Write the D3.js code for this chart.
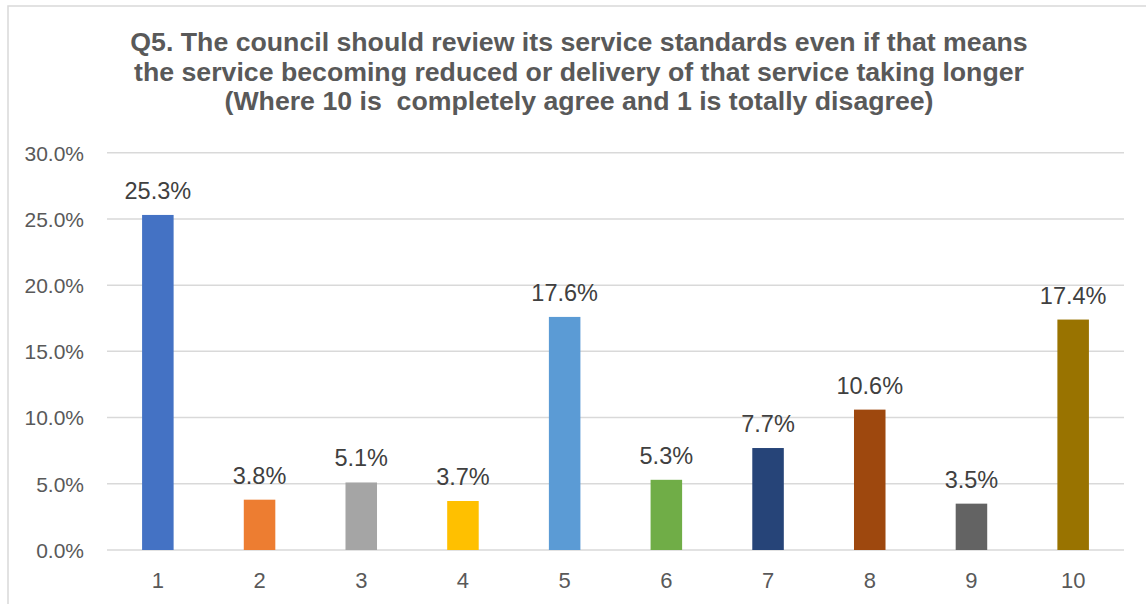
<!DOCTYPE html>
<html>
<head>
<meta charset="utf-8">
<script src="https://cdn.jsdelivr.net/npm/d3@7"></script>
<style>
  html, body { margin: 0; padding: 0; background: #fff; }
  svg { display: block; }
</style>
</head>
<body>
<svg id="chart" width="1146" height="604"></svg>
<script>
const categories = ["1", "2", "3", "4", "5", "6", "7", "8", "9", "10"];
const values = [25.3, 3.8, 5.1, 3.7, 17.6, 5.3, 7.7, 10.6, 3.5, 17.4];
const barColors = ["#4472C4", "#ED7D31", "#A5A5A5", "#FFC000", "#5B9BD5", "#70AD47", "#264478", "#9E480E", "#636363", "#997300"];
const yTicks = [0, 5, 10, 15, 20, 25, 30];
const titleLines = [
  "Q5. The council should review its service standards even if that means",
  "the service becoming reduced or delivery of that service taking longer",
  "(Where 10 is  completely agree and 1 is totally disagree)"
];

const svg = d3.select("#chart");
const font = "'Liberation Sans', Arial, sans-serif";

// outer chart border (cropped at right/bottom)
svg.append("rect")
  .attr("x", 8).attr("y", 6).attr("width", 1300).attr("height", 800)
  .attr("fill", "#fff").attr("stroke", "#d9d9d9").attr("stroke-width", 1.5);

const plot = { left: 107, right: 1124, top: 152.7, bottom: 550 };

const x = d3.scaleBand().domain(categories).range([plot.left, plot.right]).paddingInner(0.69).paddingOuter(0.345);
const y = d3.scaleLinear().domain([0, 30]).range([plot.bottom, plot.top]);

// title
const title = svg.append("text")
  .attr("x", 579).attr("y", 51)
  .attr("text-anchor", "middle")
  .attr("font-family", font).attr("font-weight", "bold")
  .attr("font-size", 26.7).attr("fill", "#595959")
  .style("white-space", "pre");
titleLines.forEach((t, i) => {
  title.append("tspan").attr("x", 579).attr("dy", i === 0 ? 0 : 29.5).text(t);
});

// gridlines
svg.append("g").selectAll("line").data(yTicks).join("line")
  .attr("x1", plot.left).attr("x2", plot.right)
  .attr("y1", d => y(d)).attr("y2", d => y(d))
  .attr("stroke", "#d9d9d9").attr("stroke-width", 1.5);

// y axis labels
const yAxis = d3.axisLeft(y).tickValues(yTicks).tickFormat(d => d.toFixed(1) + "%").tickSize(0).tickPadding(0);
const yg = svg.append("g").attr("transform", `translate(84,0)`).call(yAxis);
yg.select(".domain").remove();
yg.selectAll("text").attr("font-family", font).attr("font-size", 21).attr("fill", "#595959").attr("dy", "0.35em");

// bars
svg.append("g").selectAll("rect").data(values).join("rect")
  .attr("x", (d, i) => x(categories[i]))
  .attr("width", x.bandwidth())
  .attr("y", d => y(d))
  .attr("height", d => y(0) - y(d))
  .attr("fill", (d, i) => barColors[i]);

// data labels
svg.append("g").selectAll("text").data(values).join("text")
  .attr("x", (d, i) => x(categories[i]) + x.bandwidth() / 2)
  .attr("y", d => y(d) - 16)
  .attr("text-anchor", "middle")
  .attr("font-family", font).attr("font-size", 23.5).attr("fill", "#404040")
  .text(d => d.toFixed(1) + "%");

// x axis labels
const xAxis = d3.axisBottom(x).tickSize(0).tickPadding(0);
const xg = svg.append("g").attr("transform", `translate(0,580)`).call(xAxis);
xg.select(".domain").remove();
xg.selectAll("text").attr("font-family", font).attr("font-size", 22).attr("fill", "#595959").attr("dy", "0.35em");
</script>
</body>
</html>
